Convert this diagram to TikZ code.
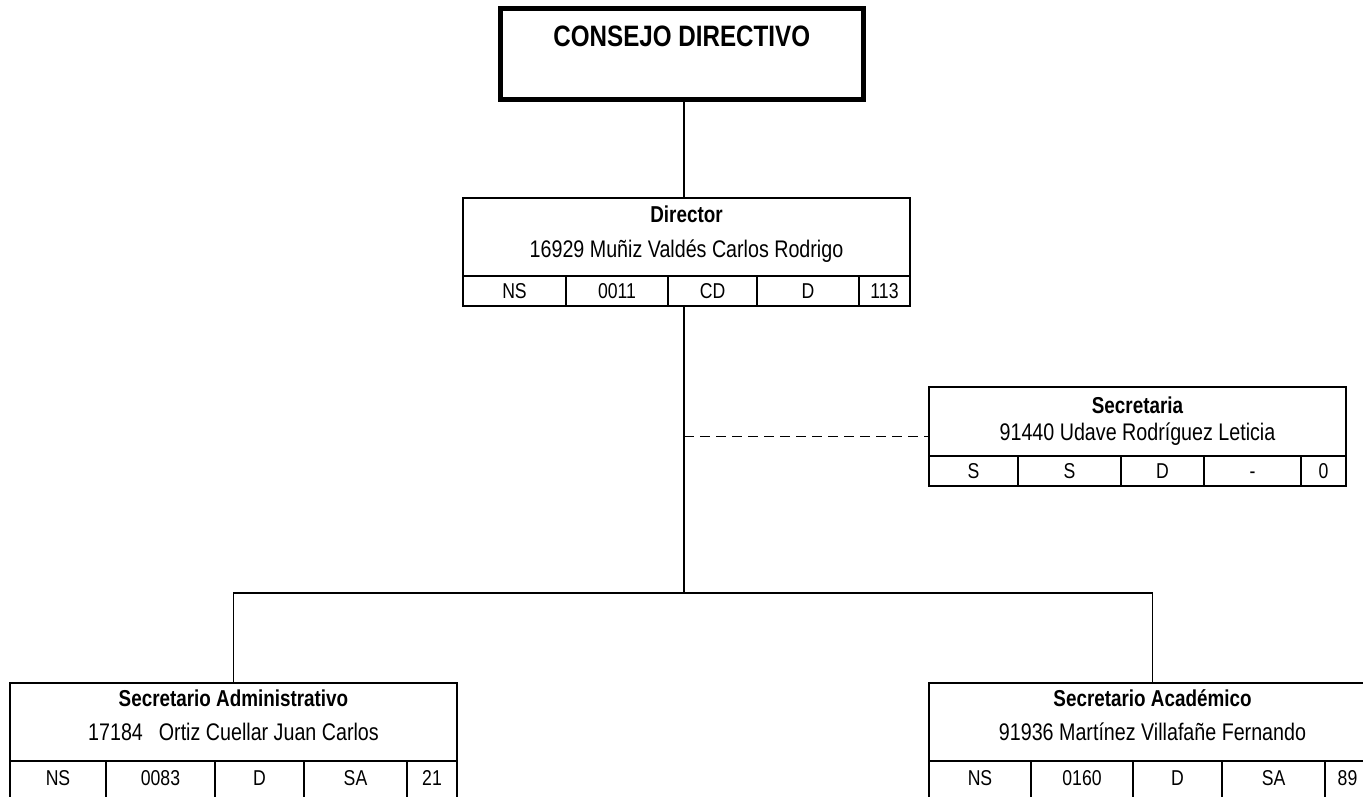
\documentclass[tikz,border=0pt]{standalone}
\usepackage{fontspec}
\setmainfont{Liberation Sans}[FakeStretch=0.82]
\usetikzlibrary{positioning, calc}

\begin{document}
\begin{tikzpicture}[x=1pt, y=-1pt,
    caja/.style={draw, line width=2.4pt, minimum width=447pt, minimum height=78pt, inner sep=0pt, outer sep=0pt},
    celda/.style={draw, line width=2.4pt, minimum height=30pt, inner sep=0pt, outer sep=0pt,
        text height=15.5pt, text depth=0pt, font=\fontsize{21.5}{24}\selectfont},
    celdabaja/.style={celda, minimum height=48pt, text depth=15pt},
    titulo/.style={anchor=base, font=\fontsize{23}{27}\selectfont\bfseries},
    nombre/.style={anchor=base, font=\fontsize{24}{28}\selectfont},
    linea/.style={line width=1.8pt}]

        % Page
        \clip (0,0) rectangle (1363,796);
        \fill[white] (0,0) rectangle (1363,796);

        % Consejo directivo
        \node[draw, line width=5pt, minimum width=363.5pt, minimum height=91pt, inner sep=0pt, outer sep=0pt] (cd) at (681.75,54) {};
        \node[below=38pt of cd.north, titulo, font=\fontsize{29.5}{33}\selectfont\bfseries] (cd-t) {CONSEJO DIRECTIVO};

        % Director
        \node[caja] (dir) at (686.5,237) {};
        \node[below=24pt of dir.north, titulo] (dir-t) {Director};
        \node[below=59pt of dir.north, nombre] (dir-n) {16929 Muñiz Valdés Carlos Rodrigo};
        \node[celda, minimum width=103pt, anchor=north west] (dir-1) at (dir.south west) {NS};
        \node[celda, minimum width=102pt, right=0pt of dir-1] (dir-2) {0011};
        \node[celda, minimum width=89pt, right=0pt of dir-2] (dir-3) {CD};
        \node[celda, minimum width=102pt, right=0pt of dir-3] (dir-4) {D};
        \node[celda, minimum width=51pt, right=0pt of dir-4] (dir-5) {113};

        % Secretaria
        \node[caja, minimum width=417pt, minimum height=69pt] (sec) at (1137.5,421.5) {};
        \node[below=26pt of sec.north, titulo] (sec-t) {Secretaria};
        \node[below=53pt of sec.north, nombre] (sec-n) {91440 Udave Rodríguez Leticia};
        \node[celda, minimum width=89pt, anchor=north west] (sec-1) at (sec.south west) {S};
        \node[celda, minimum width=103pt, right=0pt of sec-1] (sec-2) {S};
        \node[celda, minimum width=83pt, right=0pt of sec-2] (sec-3) {D};
        \node[celda, minimum width=97pt, right=0pt of sec-3] (sec-4) {-};
        \node[celda, minimum width=45pt, right=0pt of sec-4] (sec-5) {0};

        % Secretario administrativo
        \node[caja] (sa) at (233.5,722) {};
        \node[below=23pt of sa.north, titulo] (sa-t) {Secretario Administrativo};
        \node[below=57pt of sa.north, nombre] (sa-n) {17184\hspace{16pt}Ortiz Cuellar Juan Carlos};
        \node[celdabaja, minimum width=96pt, anchor=north west] (sa-1) at (sa.south west) {NS};
        \node[celdabaja, minimum width=109pt, right=0pt of sa-1] (sa-2) {0083};
        \node[celdabaja, minimum width=89pt, right=0pt of sa-2] (sa-3) {D};
        \node[celdabaja, minimum width=103pt, right=0pt of sa-3] (sa-4) {SA};
        \node[celdabaja, minimum width=50pt, right=0pt of sa-4] (sa-5) {21};

        % Secretario academico
        \node[caja] (sac) at (1152.5,722) {};
        \node[below=23pt of sac.north, titulo] (sac-t) {Secretario Académico};
        \node[below=57pt of sac.north, nombre] (sac-n) {91936 Martínez Villafañe Fernando};
        \node[celdabaja, minimum width=102pt, anchor=north west] (sac-1) at (sac.south west) {NS};
        \node[celdabaja, minimum width=102pt, right=0pt of sac-1] (sac-2) {0160};
        \node[celdabaja, minimum width=89pt, right=0pt of sac-2] (sac-3) {D};
        \node[celdabaja, minimum width=103pt, right=0pt of sac-3] (sac-4) {SA};
        \node[celdabaja, minimum width=45pt, right=0pt of sac-4] (sac-5) {89};

        % Connectors
        \coordinate (nudo) at (684,593);
        \coordinate (secmid) at ($(sec.north west)!0.5!(sec-1.south west)$);
        \draw[linea] (cd.south -| nudo) -- (dir.north -| nudo);
        \draw[linea] (dir-3.south -| nudo) -- (nudo);
        \draw[linea, dash pattern=on 10pt off 6pt] (nudo |- secmid) -- (secmid);
        \draw[linea] (sa.north) |- (nudo) -| (sac.north);
    \end{tikzpicture}
\end{document}
